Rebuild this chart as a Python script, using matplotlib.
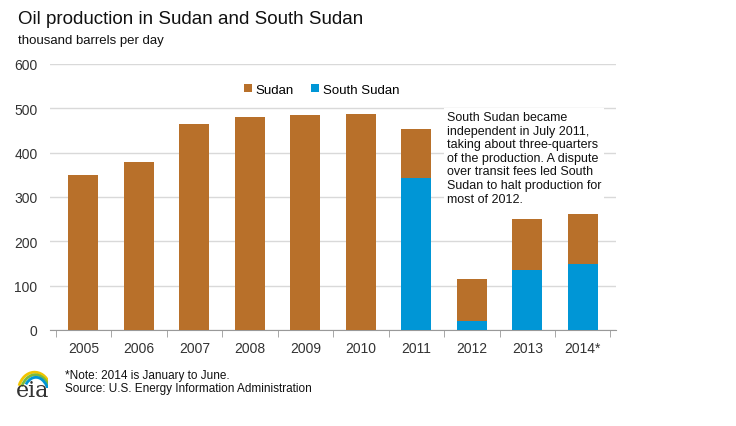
import matplotlib.pyplot as plt
import numpy as np
from matplotlib.patches import Arc

plt.rcParams['font.family'] = ['Liberation Sans', 'DejaVu Sans']

# Data (thousand barrels per day)
years = ["2005", "2006", "2007", "2008", "2009", "2010", "2011", "2012", "2013", "2014*"]
south_sudan = [0, 0, 0, 0, 0, 0, 343, 20, 135, 149]
sudan = [350, 379, 465, 480, 485, 487, 110, 95, 115, 113]

brown = "#B8702A"
blue = "#0096D6"

fig = plt.figure(figsize=(7.36, 4.27), dpi=100)
ax = fig.add_axes([0.068, 0.225, 0.769, 0.623])

x = np.arange(len(years))
ax.bar(x, south_sudan, width=0.54, color=blue, label="South Sudan", zorder=3)
ax.bar(x, sudan, width=0.54, bottom=south_sudan, color=brown, label="Sudan", zorder=3)

ax.set_ylim(0, 600)
ax.set_xlim(-0.6, len(years) - 0.4)
ax.set_yticks(range(0, 601, 100))
ax.yaxis.grid(True, color="#d9d9d9", linewidth=1, zorder=0)
ax.tick_params(axis="y", length=0, labelsize=10, colors="#333333", pad=9)
ax.set_xticks(x)
ax.set_xticklabels(years, fontsize=10, color="#333333")
ax.tick_params(axis="x", length=0, pad=8)
# minor ticks between categories
ax.set_xticks(np.arange(-0.5, len(years), 1), minor=True)
ax.tick_params(axis="x", which="minor", length=5, direction="out", color="#999999")
for s in ["top", "right", "left"]:
    ax.spines[s].set_visible(False)
ax.spines["bottom"].set_color("#999999")

handles, labels = ax.get_legend_handles_labels()
ax.legend(handles[::-1], labels[::-1], loc="upper center", bbox_to_anchor=(0.48, 0.97),
          ncol=2, frameon=False, fontsize=9.5, handlelength=0.6, handleheight=0.6,
          handletextpad=0.3, columnspacing=1.3)

ax.text(6.55, 494, "South Sudan became\nindependent in July 2011,\ntaking about three-quarters\n"
        "of the production. A dispute\nover transit fees led South\nSudan to halt production for\nmost of 2012.",
        fontsize=9, va="top", ha="left", color="#111111", linespacing=1.18,
        bbox=dict(facecolor="white", edgecolor="none", pad=2), zorder=4)

fig.text(0.024, 0.955, "Oil production in Sudan and South Sudan", fontsize=13.5, va="center", color="#111111")
fig.text(0.024, 0.905, "thousand barrels per day", fontsize=9.5, va="center", color="#111111")

fig.text(0.088, 0.12, "*Note: 2014 is January to June.", fontsize=8.5, va="center", color="#111111")
fig.text(0.088, 0.088, "Source: U.S. Energy Information Administration", fontsize=8.5, va="center", color="#111111")

# eia logo
fig.text(0.022, 0.085, "eia", fontsize=16, family="DejaVu Serif", va="center", color="#333333")
lax = fig.add_axes([0.02, 0.09, 0.045, 0.06])
lax.set_xlim(0, 1)
lax.set_ylim(0, 1)
lax.axis("off")
lax.add_patch(Arc((0.6, -0.2), 1.0, 1.6, theta1=40, theta2=150, color="#F2C500", lw=2))
lax.add_patch(Arc((0.62, -0.3), 0.9, 1.6, theta1=30, theta2=140, color="#7DBA3C", lw=2))
lax.add_patch(Arc((0.64, -0.4), 0.8, 1.6, theta1=0, theta2=120, color="#0096D6", lw=2))

fig.savefig("out.png", dpi=100)
